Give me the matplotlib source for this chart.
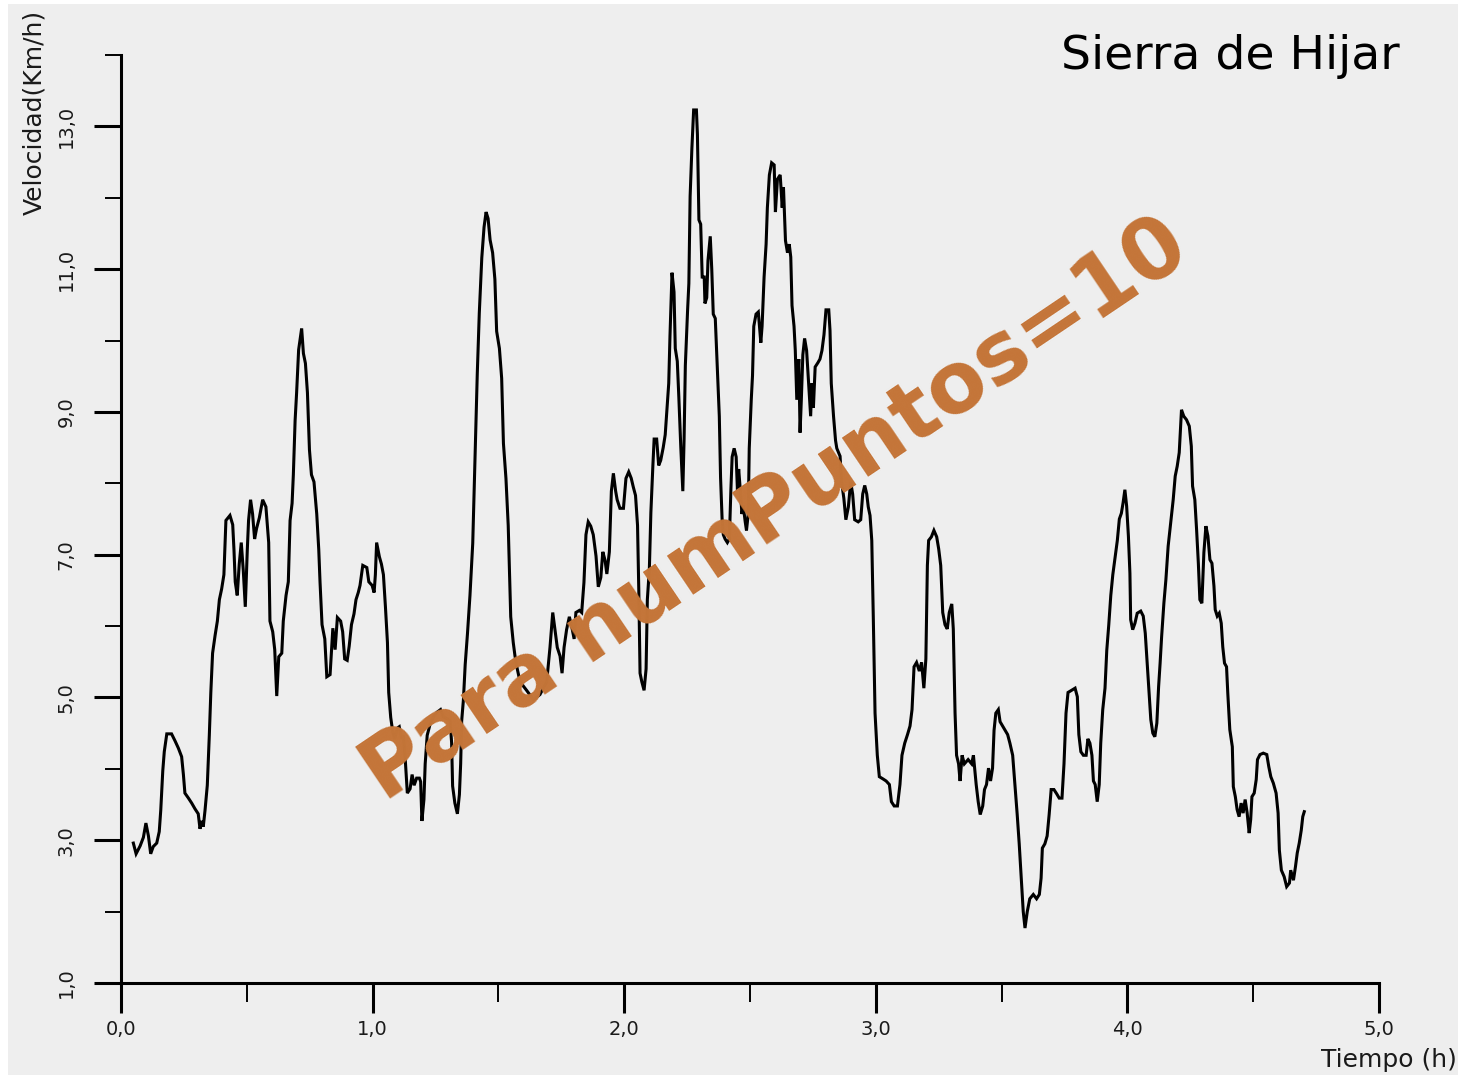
import matplotlib
matplotlib.use("Agg")
import matplotlib.pyplot as plt
from matplotlib.patches import Rectangle
from matplotlib.ticker import FuncFormatter, MultipleLocator

# Velocidad a lo largo del recorrido
tiempo = [
    0.049, 0.060, 0.076, 0.089, 0.099, 0.109, 0.118, 0.128, 0.142, 0.152,
    0.158, 0.166, 0.172, 0.182, 0.201, 0.215, 0.228, 0.241, 0.248, 0.254,
    0.268, 0.281, 0.294, 0.307, 0.314, 0.321, 0.327, 0.334, 0.343, 0.351,
    0.357, 0.364, 0.374, 0.383, 0.391, 0.400, 0.409, 0.417, 0.433, 0.444,
    0.449, 0.454, 0.462, 0.470, 0.478, 0.486, 0.494, 0.502, 0.507, 0.515,
    0.523, 0.531, 0.539, 0.550, 0.563, 0.576, 0.587, 0.592, 0.603, 0.611,
    0.619, 0.627, 0.639, 0.645, 0.656, 0.665, 0.672, 0.680, 0.685, 0.692,
    0.698, 0.706, 0.718, 0.725, 0.733, 0.741, 0.749, 0.757, 0.767, 0.778,
    0.786, 0.791, 0.799, 0.810, 0.818, 0.831, 0.842, 0.851, 0.860, 0.873,
    0.881, 0.889, 0.899, 0.907, 0.916, 0.926, 0.934, 0.943, 0.950, 0.961,
    0.977, 0.985, 0.998, 1.006, 1.011, 1.016, 1.027, 1.035, 1.043, 1.051,
    1.059, 1.064, 1.072, 1.080, 1.088, 1.098, 1.106, 1.115, 1.122, 1.130,
    1.138, 1.149, 1.157, 1.165, 1.175, 1.186, 1.191, 1.196, 1.204, 1.209,
    1.217, 1.228, 1.241, 1.255, 1.270, 1.281, 1.297, 1.308, 1.314, 1.318,
    1.327, 1.337, 1.345, 1.350, 1.354, 1.361, 1.368, 1.377, 1.387, 1.398,
    1.407, 1.416, 1.424, 1.434, 1.443, 1.451, 1.459, 1.467, 1.477, 1.486,
    1.493, 1.504, 1.513, 1.520, 1.530, 1.539, 1.549, 1.559, 1.566, 1.575,
    1.586, 1.612, 1.639, 1.665, 1.692, 1.705, 1.716, 1.725, 1.734, 1.745,
    1.753, 1.761, 1.771, 1.782, 1.791, 1.801, 1.808, 1.822, 1.831, 1.840,
    1.848, 1.857, 1.867, 1.877, 1.888, 1.897, 1.907, 1.915, 1.924, 1.931,
    1.941, 1.949, 1.957, 1.966, 1.972, 1.983, 1.997, 2.007, 2.018, 2.028,
    2.036, 2.045, 2.053, 2.058, 2.063, 2.070, 2.079, 2.087, 2.092, 2.100,
    2.106, 2.114, 2.119, 2.129, 2.137, 2.145, 2.155, 2.163, 2.169, 2.177,
    2.182, 2.190, 2.198, 2.203, 2.211, 2.217, 2.225, 2.233, 2.238, 2.243,
    2.252, 2.257, 2.262, 2.269, 2.276, 2.287, 2.291, 2.297, 2.304, 2.310,
    2.318, 2.321, 2.328, 2.333, 2.342, 2.348, 2.354, 2.362, 2.370, 2.378,
    2.383, 2.389, 2.394, 2.401, 2.410, 2.418, 2.424, 2.429, 2.437, 2.445,
    2.450, 2.455, 2.460, 2.468, 2.473, 2.481, 2.486, 2.493, 2.497, 2.505,
    2.510, 2.515, 2.524, 2.533, 2.543, 2.548, 2.556, 2.564, 2.569, 2.577,
    2.586, 2.596, 2.601, 2.609, 2.620, 2.628, 2.633, 2.641, 2.649, 2.656,
    2.662, 2.667, 2.675, 2.680, 2.686, 2.694, 2.699, 2.704, 2.710, 2.717,
    2.725, 2.733, 2.741, 2.746, 2.752, 2.759, 2.770, 2.778, 2.786, 2.794,
    2.802, 2.813, 2.818, 2.823, 2.832, 2.840, 2.845, 2.858, 2.864, 2.873,
    2.881, 2.891, 2.900, 2.908, 2.916, 2.930, 2.940, 2.948, 2.956, 2.964,
    2.970, 2.977, 2.984, 2.990, 2.997, 3.006, 3.014, 3.028, 3.041, 3.054,
    3.062, 3.073, 3.086, 3.096, 3.104, 3.115, 3.126, 3.136, 3.144, 3.152,
    3.162, 3.173, 3.182, 3.191, 3.199, 3.205, 3.210, 3.221, 3.231, 3.242,
    3.250, 3.258, 3.266, 3.275, 3.284, 3.292, 3.302, 3.308, 3.315, 3.321,
    3.329, 3.335, 3.343, 3.352, 3.367, 3.381, 3.388, 3.399, 3.407, 3.415,
    3.425, 3.432, 3.440, 3.448, 3.456, 3.464, 3.470, 3.477, 3.487, 3.494,
    3.504, 3.514, 3.524, 3.533, 3.544, 3.553, 3.562, 3.570, 3.578, 3.586,
    3.593, 3.602, 3.612, 3.626, 3.639, 3.650, 3.657, 3.662, 3.672, 3.681,
    3.689, 3.697, 3.708, 3.719, 3.729, 3.740, 3.748, 3.756, 3.764, 3.778,
    3.792, 3.801, 3.807, 3.815, 3.825, 3.836, 3.843, 3.851, 3.859, 3.865,
    3.872, 3.880, 3.888, 3.894, 3.902, 3.911, 3.918, 3.926, 3.934, 3.942,
    3.951, 3.960, 3.968, 3.976, 3.983, 3.990, 3.997, 4.004, 4.010, 4.013,
    4.021, 4.030, 4.039, 4.053, 4.063, 4.071, 4.077, 4.085, 4.093, 4.101,
    4.109, 4.117, 4.124, 4.130, 4.136, 4.145, 4.153, 4.162, 4.172, 4.182,
    4.190, 4.198, 4.206, 4.215, 4.224, 4.235, 4.246, 4.254, 4.259, 4.268,
    4.275, 4.282, 4.288, 4.296, 4.304, 4.312, 4.320, 4.328, 4.336, 4.344,
    4.349, 4.357, 4.365, 4.373, 4.379, 4.386, 4.394, 4.399, 4.407, 4.417,
    4.421, 4.429, 4.436, 4.444, 4.452, 4.460, 4.468, 4.476, 4.484, 4.490,
    4.495, 4.504, 4.512, 4.517, 4.527, 4.540, 4.554, 4.562, 4.570, 4.580,
    4.591, 4.599, 4.604, 4.612, 4.623, 4.633, 4.644, 4.649, 4.660, 4.668,
    4.675, 4.683, 4.691, 4.697, 4.703,
]
velocidad = [
    2.96, 2.81, 2.92, 3.04, 3.24, 3.06, 2.81, 2.91, 2.96, 3.12,
    3.42, 3.97, 4.24, 4.49, 4.49, 4.39, 4.29, 4.17, 3.92, 3.66,
    3.59, 3.52, 3.44, 3.37, 3.16, 3.27, 3.19, 3.42, 3.77, 4.47,
    5.07, 5.62, 5.87, 6.07, 6.37, 6.52, 6.72, 7.48, 7.55, 7.42,
    7.07, 6.62, 6.43, 6.87, 7.17, 6.78, 6.27, 7.07, 7.48, 7.77,
    7.57, 7.22, 7.37, 7.52, 7.77, 7.67, 7.17, 6.07, 5.92, 5.67,
    5.02, 5.57, 5.62, 6.07, 6.43, 6.62, 7.48, 7.72, 8.12, 8.88,
    9.27, 9.87, 10.17, 9.82, 9.68, 9.27, 8.47, 8.12, 8.02, 7.57,
    7.07, 6.62, 6.02, 5.82, 5.29, 5.32, 5.97, 5.67, 6.12, 6.07,
    5.92, 5.54, 5.52, 5.72, 6.02, 6.17, 6.37, 6.47, 6.57, 6.85,
    6.82, 6.62, 6.57, 6.47, 6.72, 7.17, 6.97, 6.87, 6.72, 6.27,
    5.77, 5.07, 4.72, 4.52, 4.42, 4.57, 4.59, 4.42, 4.47, 4.12,
    3.66, 3.72, 3.92, 3.77, 3.87, 3.87, 3.82, 3.27, 3.57, 4.07,
    4.47, 4.62, 4.72, 4.79, 4.83, 4.73, 4.70, 4.67, 4.37, 3.76,
    3.52, 3.37, 3.64, 4.07, 4.67, 4.97, 5.46, 5.89, 6.43, 7.16,
    8.32, 9.53, 10.38, 11.16, 11.59, 11.80, 11.71, 11.41, 11.23, 10.86,
    10.13, 9.89, 9.47, 8.56, 8.07, 7.41, 6.13, 5.77, 5.58, 5.40,
    5.22, 5.10, 4.97, 5.04, 5.22, 5.70, 6.19, 5.95, 5.70, 5.58,
    5.34, 5.70, 5.95, 6.13, 6.00, 5.82, 6.19, 6.22, 6.19, 6.61,
    7.28, 7.46, 7.40, 7.28, 6.98, 6.55, 6.68, 7.04, 6.92, 6.73,
    7.04, 7.89, 8.14, 7.89, 7.77, 7.65, 7.65, 8.07, 8.16, 8.07,
    7.95, 7.83, 7.41, 6.50, 5.34, 5.22, 5.10, 5.40, 6.37, 6.80,
    7.59, 8.25, 8.62, 8.62, 8.25, 8.32, 8.50, 8.68, 8.98, 9.40,
    10.07, 10.95, 10.68, 9.89, 9.71, 9.22, 8.50, 7.89, 8.62, 9.65,
    10.43, 10.80, 12.02, 12.69, 13.23, 13.23, 12.89, 11.69, 11.63, 10.89,
    10.89, 10.52, 10.60, 11.12, 11.46, 11.00, 10.37, 10.31, 9.63, 8.94,
    8.08, 7.51, 7.28, 7.22, 7.17, 7.22, 7.91, 8.37, 8.49, 8.37,
    7.91, 8.20, 7.97, 7.57, 7.69, 7.46, 7.34, 7.57, 8.49, 9.17,
    9.51, 10.20, 10.37, 10.40, 9.97, 10.20, 10.89, 11.35, 11.86, 12.32,
    12.49, 12.46, 11.80, 12.26, 12.32, 11.86, 12.15, 11.40, 11.23, 11.35,
    11.17, 10.49, 10.20, 9.86, 9.17, 9.74, 8.71, 9.17, 9.80, 10.03,
    9.86, 9.40, 8.94, 9.40, 9.06, 9.63, 9.69, 9.74, 9.86, 10.08,
    10.43, 10.43, 10.14, 9.40, 8.94, 8.60, 8.49, 8.38, 8.02, 7.79,
    7.49, 7.67, 8.02, 7.85, 7.49, 7.46, 7.49, 7.85, 7.97, 7.85,
    7.67, 7.55, 7.20, 6.13, 4.78, 4.19, 3.89, 3.86, 3.83, 3.78,
    3.54, 3.48, 3.48, 3.78, 4.19, 4.36, 4.48, 4.60, 4.83, 5.43,
    5.49, 5.37, 5.49, 5.13, 5.54, 6.85, 7.20, 7.25, 7.34, 7.25,
    7.08, 6.85, 6.19, 6.02, 5.96, 6.19, 6.31, 5.96, 4.78, 4.19,
    4.07, 3.83, 4.19, 4.07, 4.13, 4.07, 4.19, 3.78, 3.54, 3.36,
    3.48, 3.71, 3.78, 4.01, 3.83, 4.01, 4.54, 4.78, 4.83, 4.66,
    4.60, 4.54, 4.48, 4.36, 4.19, 3.78, 3.36, 2.95, 2.47, 2.00,
    1.77, 2.00, 2.18, 2.24, 2.18, 2.24, 2.47, 2.89, 2.95, 3.06,
    3.36, 3.71, 3.71, 3.65, 3.59, 3.59, 4.07, 4.78, 5.07, 5.10,
    5.13, 5.01, 4.48, 4.24, 4.19, 4.19, 4.42, 4.36, 4.19, 3.83,
    3.78, 3.54, 3.78, 4.36, 4.83, 5.13, 5.66, 6.02, 6.43, 6.72,
    6.96, 7.20, 7.50, 7.58, 7.73, 7.91, 7.68, 7.26, 6.74, 6.09,
    5.95, 6.04, 6.18, 6.21, 6.14, 5.90, 5.57, 5.15, 4.69, 4.50,
    4.45, 4.64, 5.15, 5.48, 5.85, 6.32, 6.65, 7.12, 7.44, 7.77,
    8.10, 8.24, 8.43, 9.03, 8.94, 8.89, 8.80, 8.52, 7.96, 7.77,
    7.35, 6.88, 6.37, 6.32, 7.03, 7.40, 7.26, 6.93, 6.88, 6.56,
    6.23, 6.14, 6.18, 6.04, 5.71, 5.48, 5.43, 5.06, 4.55, 4.31,
    3.75, 3.61, 3.43, 3.33, 3.52, 3.38, 3.57, 3.38, 3.10, 3.29,
    3.61, 3.66, 3.85, 4.13, 4.20, 4.22, 4.20, 4.03, 3.89, 3.80,
    3.66, 3.38, 2.86, 2.58, 2.49, 2.35, 2.40, 2.58, 2.44, 2.63,
    2.82, 2.96, 3.14, 3.33, 3.40,
]

x_major = [0, 1, 2, 3, 4, 5]
y_major = [1, 3, 5, 7, 9, 11, 13]

W, H = 1458, 1075
bg = "#eeeeee"

fig = plt.figure(figsize=(W / 100, H / 100), dpi=100)
fig.patch.set_facecolor("white")
fig.add_artist(Rectangle((8 / W, 0), 1 - 8 / W, 1 - 4 / H,
                         transform=fig.transFigure, facecolor=bg,
                         edgecolor="none", zorder=-10))

ax = fig.add_axes([121 / W, (H - 983) / H, (1379 - 121) / W, (983 - 55) / H])
ax.set_facecolor(bg)
ax.patch.set_alpha(0)

ax.plot(tiempo, velocidad, color="black", lw=2.2, solid_joinstyle="miter")

ax.set_xlim(0, 5)
ax.set_ylim(1, 14)
for s in ["top", "right"]:
    ax.spines[s].set_visible(False)
for s in ["left", "bottom"]:
    ax.spines[s].set_linewidth(2.2)

coma = FuncFormatter(lambda v, p: f"{v:.1f}".replace(".", ","))
ax.set_xticks(x_major)
ax.set_yticks(y_major)
ax.xaxis.set_minor_locator(MultipleLocator(0.5))
ax.yaxis.set_minor_locator(MultipleLocator(2))
ax.xaxis.set_major_formatter(coma)
ax.yaxis.set_major_formatter(coma)

ax.tick_params(axis="x", which="major", length=21.5, width=2.2, pad=5,
               labelsize=14, labelcolor="#1a1a1a")
ax.tick_params(axis="x", which="minor", length=14, width=1.4)
ax.tick_params(axis="y", which="major", length=19.5, width=2.2, pad=13,
               labelsize=14, labelcolor="#1a1a1a", labelrotation=90)
ax.tick_params(axis="y", which="minor", length=11.5, width=1.4)
for lab in ax.get_yticklabels():
    lab.set_va("center")

fig.text(34 / W, 1 - 10 / H, "Velocidad(Km/h)", rotation=90, ha="center",
         va="top", fontsize=18, color="#1a1a1a")
fig.text(1457 / W, 1 - 1060 / H, "Tiempo (h)", ha="right", va="center",
         fontsize=18, color="#1a1a1a")
fig.text(1400 / W, 1 - 69 / H, "Sierra de Hijar", ha="right", va="baseline",
         fontsize=34, color="black")

fig.text(776 / W, 1 - 511 / H, "Para numPuntos=10", rotation=34,
         rotation_mode="anchor", ha="center", va="center", fontsize=61,
         fontweight="bold", color="#c47538", zorder=5)

fig.savefig("out.png", dpi=100, facecolor=fig.get_facecolor())
